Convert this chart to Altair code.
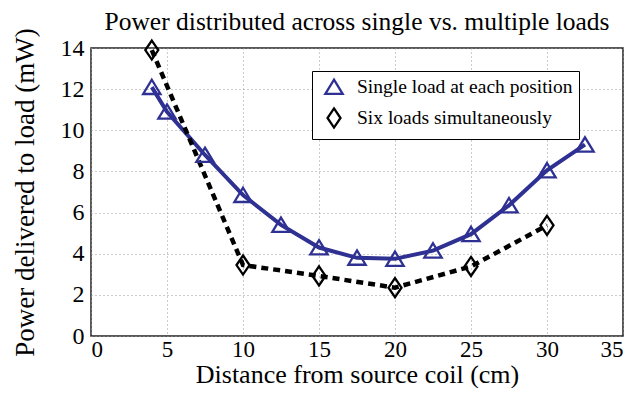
import altair as alt
import pandas as pd

single_x = [4, 5, 7.5, 10, 12.5, 15, 17.5, 20, 22.5, 25, 27.5, 30, 32.5]
single_y = [12.1, 10.9, 8.8, 6.85, 5.4, 4.3, 3.8, 3.75, 4.15, 4.95, 6.35, 8.05, 9.3]
six_x = [4, 10, 15, 20, 25, 30]
six_y = [13.9, 3.45, 2.92, 2.35, 3.38, 5.38]
x_ticks = [0, 5, 10, 15, 20, 25, 30, 35]
y_ticks = [0, 2, 4, 6, 8, 10, 12, 14]

S1 = "Single load at each position"
S2 = "Six loads simultaneously"

df = pd.DataFrame(
    [{"x": a, "y": b, "s": S1} for a, b in zip(single_x, single_y)]
    + [{"x": a, "y": b, "s": S2} for a, b in zip(six_x, six_y)]
)

FONT = "Liberation Serif"
BLUE = "#2e3092"

xs = alt.Scale(domain=[0, 35], nice=False)
ys = alt.Scale(domain=[0, 14], nice=False)
cs = alt.Scale(domain=[S1, S2], range=[BLUE, "#000000"])

xaxis = alt.Axis(values=x_ticks, title="Distance from source coil (cm)",
                 ticks=False, labelPadding=2, domain=False, labelFontSize=23,
                 titleY=46.5, titleBaseline="alphabetic", titleFontSize=26)
yaxis = alt.Axis(values=y_ticks, title="Power delivered to load (mW)",
                 ticks=False, labelPadding=7, titlePadding=21, domain=False)

base = alt.Chart(df)

line1 = base.transform_filter(alt.datum.s == S1).mark_line(
    color=BLUE, strokeWidth=4
).encode(
    x=alt.X("x:Q", scale=xs, axis=xaxis),
    y=alt.Y("y:Q", scale=ys, axis=yaxis),
)
line2 = base.transform_filter(alt.datum.s == S2).mark_line(
    color="#000000", strokeWidth=4.5, strokeDash=[7, 5]
).encode(x="x:Q", y="y:Q")

diamond = "M0,-1.1L0.75,0L0,1.1L-0.75,0Z"
tri = "M0,-0.85L1,0.8L-1,0.8Z"

points = base.mark_point(filled=False, strokeWidth=2.3, size=300, opacity=1).encode(
    x="x:Q",
    y="y:Q",
    color=alt.Color("s:N", scale=cs, legend=alt.Legend(title=None)),
    shape=alt.Shape("s:N", scale=alt.Scale(domain=[S1, S2], range=[tri, diamond]),
                    legend=alt.Legend(title=None)),
)

chart = (line1 + line2 + points).properties(
    width=532, height=288,
    autosize=alt.AutoSizeParams(type="none"),
    padding={"left": 83, "top": 40, "right": 4, "bottom": 52},
    title=alt.Title("Power distributed across single vs. multiple loads",
                    font=FONT, fontSize=25.5, fontWeight="normal", color="#000",
                    offset=4, dy=12),
).configure(
    font=FONT
).configure_view(
    stroke="#222", strokeWidth=1.5
).configure_axis(
    labelFont=FONT, labelFontSize=24, labelColor="#000",
    titleFont=FONT, titleFontSize=27, titleFontWeight="normal", titleColor="#000",
    grid=True, gridColor="#999999", gridDash=[1, 3], gridWidth=1,
).configure_legend(
    orient="none", legendX=221, legendY=23,
    labelFont=FONT, labelFontSize=19.5, labelColor="#000", labelLimit=400,
    strokeColor="#000", fillColor="#fff", padding=6,
    symbolSize=300, symbolStrokeWidth=2.3, rowPadding=4, labelOffset=13,
    symbolOffset=6,
)

chart.save("out.html", embed_options={"renderer": "svg", "actions": False})
